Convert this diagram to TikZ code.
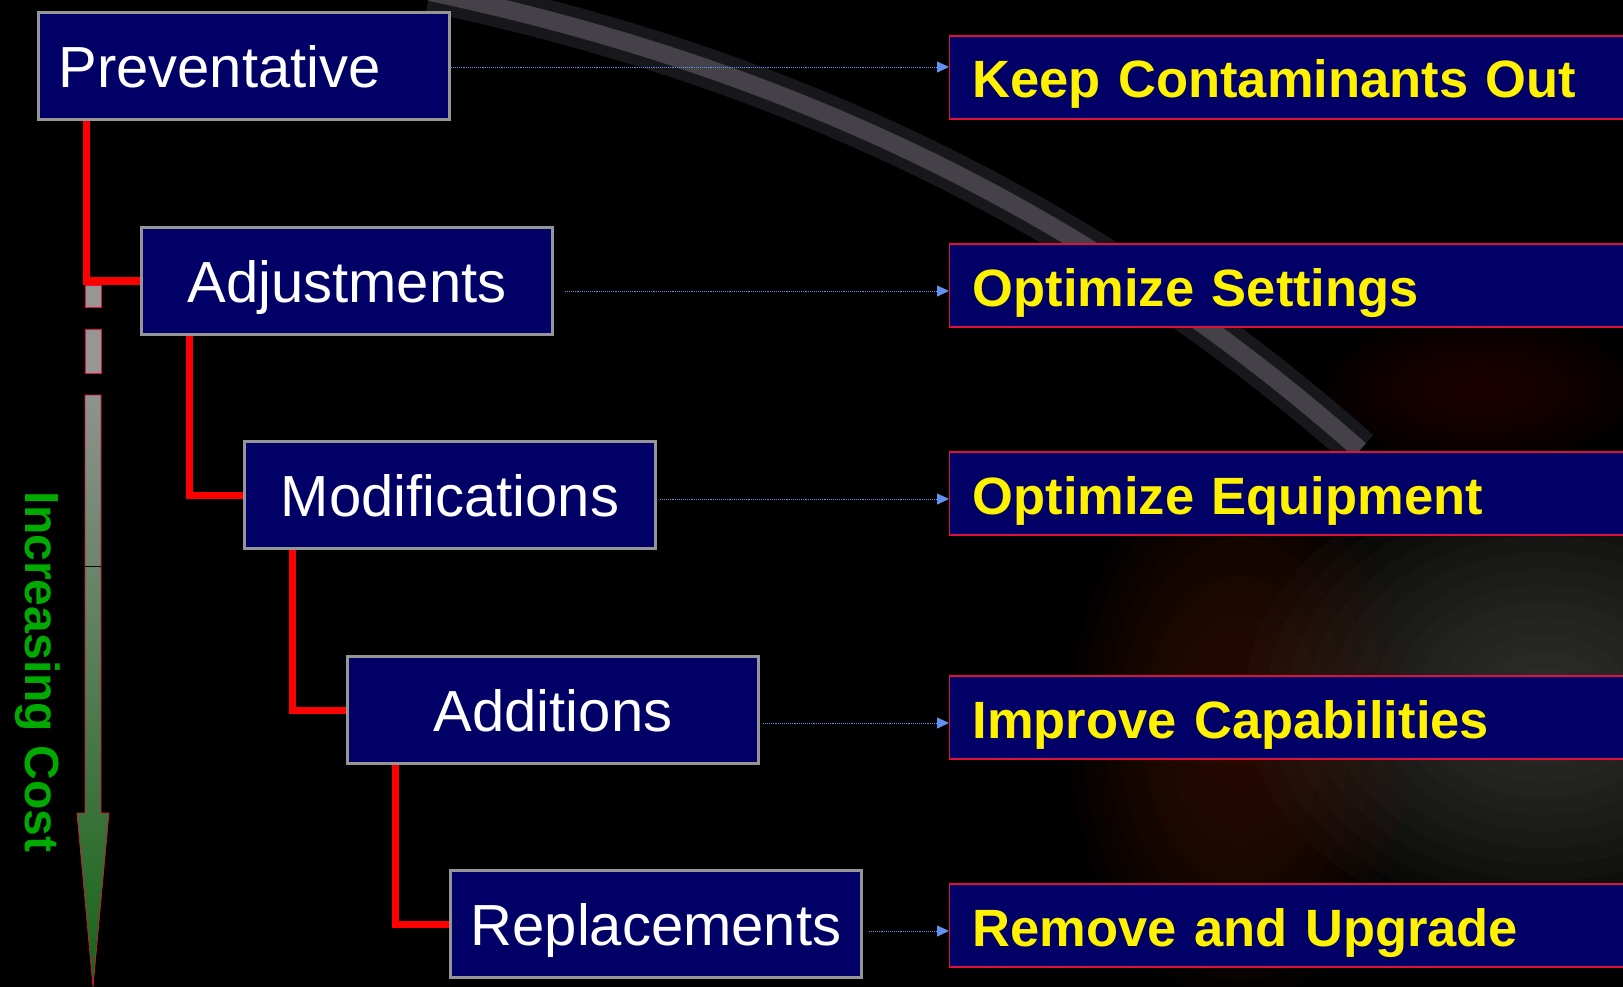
\documentclass[tikz,border=0pt]{standalone}
\usepackage{fontspec}
\setmainfont{Liberation Sans}
\usetikzlibrary{arrows.meta}
\definecolor{navy}{RGB}{0,0,102}
\definecolor{boxgray}{RGB}{150,150,150}
\definecolor{crimson}{RGB}{220,20,60}
\definecolor{linkblue}{RGB}{95,145,240}
\definecolor{costgreen}{RGB}{0,170,0}
\definecolor{shafttop}{RGB}{142,147,142}
\definecolor{shaftmid}{RGB}{95,125,95}
\definecolor{shaftbot}{RGB}{22,100,22}
\definecolor{bandgray}{RGB}{68,66,72}
\definecolor{bandedge}{RGB}{24,23,27}
\definecolor{blobred}{RGB}{70,22,6}
\definecolor{blobgray}{RGB}{70,70,68}
\definecolor{blobdark}{RGB}{50,6,6}
\begin{document}
\begin{tikzpicture}[x=1pt,y=-1pt,
  stage/.style={draw=boxgray, line width=3.3pt, fill=navy, text=white,
    minimum width=411pt, minimum height=107pt, inner xsep=20pt,
    text width=371pt, align=center, text height=43pt, text depth=0pt,
    font=\fontsize{58}{60}\selectfont},
  goal/.style={draw=crimson, line width=1.2pt, fill=navy, text=yellow,
    anchor=west, minimum width=720pt, minimum height=83pt, inner xsep=23pt,
    text width=674pt, align=left, text height=41pt, text depth=0pt,
    font=\fontsize{52.5}{56}\selectfont\bfseries},
  link/.style={draw=linkblue, line width=0.9pt, densely dotted,
    -{Triangle[length=12pt,width=11pt,fill=linkblue]}},
  elbow/.style={draw=red, line width=7pt}]
\clip (0,0) rectangle (1623,987);
\fill[black] (0,0) rectangle (1623,987);
% blurred picture behind the goals
\foreach \k in {1,...,14} {
  \fill[blobgray, opacity=0.08] (1545,700) ellipse ({300*\k/14} and {230*\k/14});
  \fill[blobred, opacity=0.07] (1240,730) ellipse ({170*\k/14} and {270*\k/14});
  \fill[blobdark, opacity=0.07] (1480,390) ellipse ({160*\k/14} and {75*\k/14});
}
\path[draw=bandedge, line width=40pt] (430,-8) .. controls (800,70) and (1100,220) .. (1360,450);
\path[draw=bandgray, line width=18pt] (430,-8) .. controls (800,70) and (1100,220) .. (1360,450);

% stages
\node[stage, align=left] (pre) at (244,66) {Preventative};
\node[stage] (adj) at (347,281) {Adjustments};
\node[stage] (mod) at (450,495) {Modifications};
\node[stage] (add) at (553,710) {Additions};
\node[stage] (rep) at (656,924) {Replacements};

% goals
\node[goal] (keep) at (949,77.5) {Keep Contaminants Out};
\node[goal] (sett) at (949,285.5) {Optimize Settings};
\node[goal] (equip) at (949,493.5) {Optimize Equipment};
\node[goal] (capa) at (949,717.5) {Improve Capabilities};
\node[goal] (upg) at (949,925.5) {Remove and Upgrade};

% stage to stage
\path[elbow] ([xshift=50pt]pre.south west) |- (adj.west);
\path[elbow] ([xshift=50pt]adj.south west) |- (mod.west);
\path[elbow] ([xshift=50pt]mod.south west) |- (add.west);
\path[elbow] ([xshift=50pt]add.south west) |- (rep.west);

% stage to goal
\foreach \a/\b/\dx/\dy in {pre/keep/0/-1, adj/sett/11/-10, mod/equip/3/-4,
                           add/capa/3/-13, rep/upg/6/-7} {
  \coordinate (s) at ([xshift=\dx pt,yshift=\dy pt]\a.east);
  \path[link] (s) -- (s -| \b.west);
}

% cost arrow
\path[draw=crimson, line width=0.7pt, fill=boxgray] (85,285) rectangle (101,307);
\path[draw=crimson, line width=0.7pt, fill=boxgray] (85,329) rectangle (101,373);
\path[draw=crimson, line width=0.7pt, top color=shafttop, middle color=shaftmid,
  bottom color=shaftbot]
  (85,395) -- (101,395) -- (101,813) -- (109,813) -- (93,987) -- (77,813)
  -- (85,813) -- cycle;
\path[draw=black, line width=0.8pt] (85,566) -- (101,566);
\node[rotate=-90, text=costgreen, font=\fontsize{48}{50}\selectfont\bfseries]
  (cost) at (38,672) {Increasing Cost};
\end{tikzpicture}
\end{document}
